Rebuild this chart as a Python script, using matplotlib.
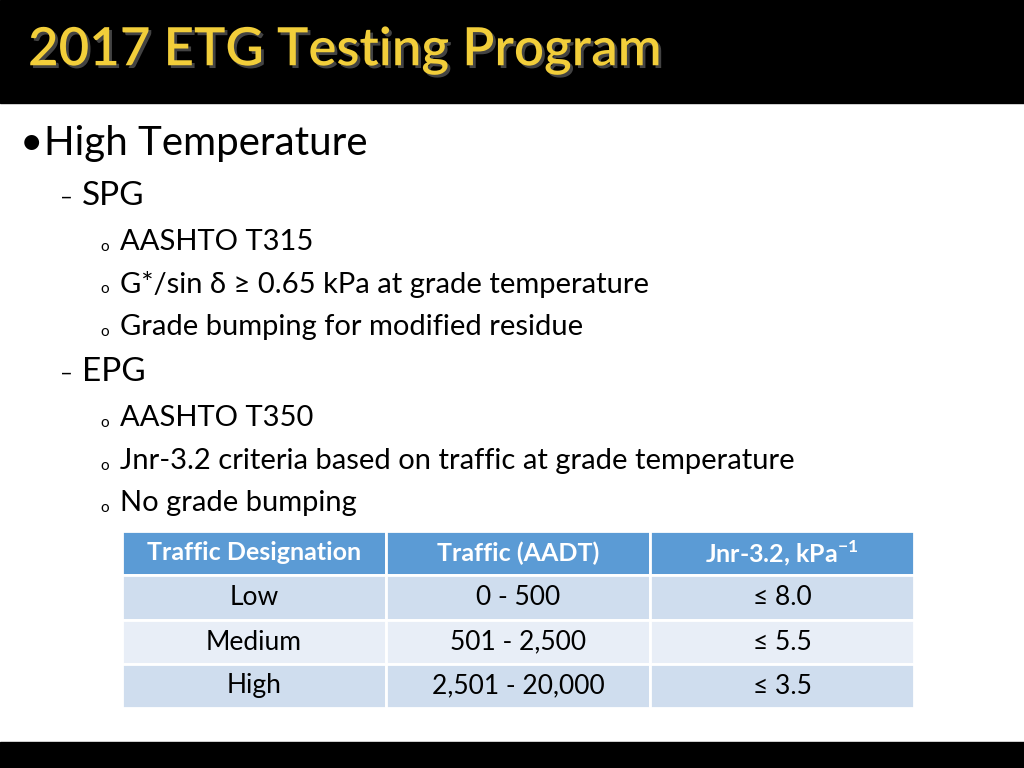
import matplotlib
matplotlib.use("Agg")
import matplotlib.pyplot as plt
import matplotlib.patheffects as pe
from matplotlib.patches import Rectangle

plt.rcParams["font.family"] = ["Lato", "DejaVu Sans"]

title = "2017 ETG Testing Program"
outline = [
    (0, "High Temperature"),
    (1, "SPG"),
    (2, "AASHTO T315"),
    (2, "G*/sin δ ≥ 0.65 kPa at grade temperature"),
    (2, "Grade bumping for modified residue"),
    (1, "EPG"),
    (2, "AASHTO T350"),
    (2, "Jnr-3.2 criteria based on traffic at grade temperature"),
    (2, "No grade bumping"),
]
headers = ["Traffic Designation", "Traffic (AADT)", r"Jnr-3.2, kPa$^{\mathregular{-1}}$"]
designations = ["Low", "Medium", "High"]
traffic = ["0 - 500", "501 - 2,500", "2,501 - 20,000"]
jnr = ["≤ 8.0", "≤ 5.5", "≤ 3.5"]

fig = plt.figure(figsize=(10.24, 7.68), dpi=100)
ax = fig.add_axes([0, 0, 1, 1])
ax.set_xlim(0, 1024)
ax.set_ylim(768, 0)
ax.axis("off")

# title band and footer band
ax.add_patch(Rectangle((0, 0), 1024, 103, color="black"))
ax.add_patch(Rectangle((0, 742), 1024, 26, color="black"))
ax.text(28, 50, title, color="#F2CE3A", fontsize=38, fontweight="semibold", va="center",
        path_effects=[pe.withSimplePatchShadow(offset=(2, -2), shadow_rgbFace="#555555", alpha=0.8)])

# bullet outline
y_pos = [144, 196, 242, 284, 327, 372, 418, 461, 503]
sizes = {0: 29, 1: 24, 2: 21}
mark_size = {0: 29, 1: 16, 2: 11}
marks = {0: "•", 1: "–", 2: "o"}
mark_x = {0: 20, 1: 60, 2: 100}
mark_dy = {0: 0, 1: 2, 2: 5}
text_x = {0: 44, 1: 82, 2: 120}
for (lvl, txt), y in zip(outline, y_pos):
    ax.text(mark_x[lvl], y + mark_dy[lvl], marks[lvl], fontsize=mark_size[lvl], va="center", color="black")
    ax.text(text_x[lvl], y, txt, fontsize=sizes[lvl], va="center", color="black")

# table
col_x = [122, 386, 650, 914]
row_y = [531, 575, 620, 664, 708]
row_colors = ["#5B9BD5", "#CFDDEE", "#E8EEF7", "#CFDDEE"]
rows = [headers] + [list(r) for r in zip(designations, traffic, jnr)]
for r, row in enumerate(rows):
    for c, txt in enumerate(row):
        x0, x1 = col_x[c], col_x[c + 1]
        y0, y1 = row_y[r], row_y[r + 1]
        ax.add_patch(Rectangle((x0, y0), x1 - x0, y1 - y0, facecolor=row_colors[r],
                               edgecolor="white", linewidth=2))
        ax.text((x0 + x1) / 2, (y0 + y1) / 2, txt, ha="center", va="center",
                fontsize=18 if r == 0 else 19,
                color="white" if r == 0 else "black", fontweight="bold" if r == 0 else "normal")

fig.savefig("out.png", dpi=100)
